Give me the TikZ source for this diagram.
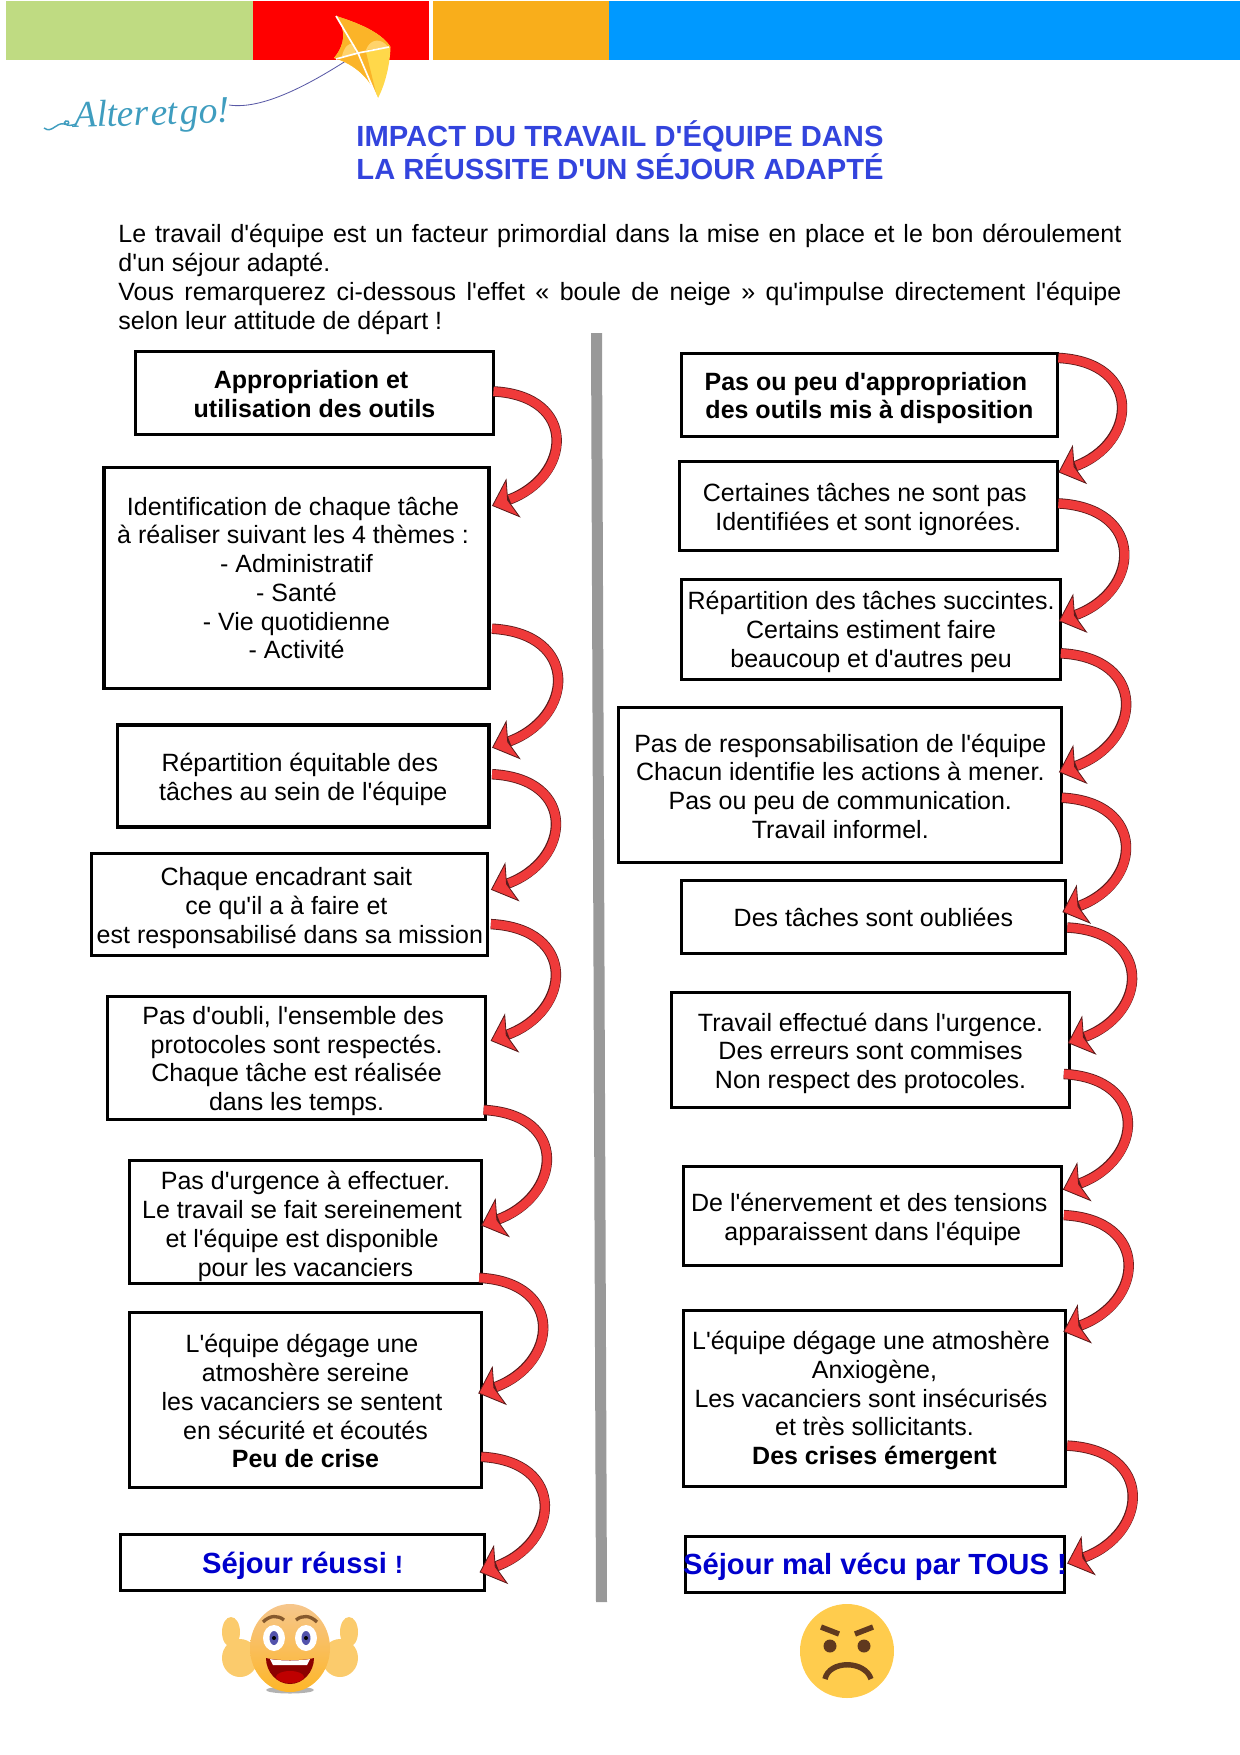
\documentclass[tikz,border=0pt]{standalone}
\usepackage{fontspec}
\setmainfont{Liberation Sans}[Ligatures=TeXOff]
\newfontfamily\mainlogo{Liberation Serif}
\usetikzlibrary{arrows.meta,calc}
\newcommand{\esp}{\kern3.34pt}
\definecolor{barvert}{HTML}{BFDB82}
\definecolor{barrouge}{HTML}{FF0000}
\definecolor{barorange}{HTML}{F9AE1B}
\definecolor{barbleu}{HTML}{0099FF}
\definecolor{titrebleu}{HTML}{3344DD}
\definecolor{finbleu}{HTML}{0000CC}
\definecolor{flecherouge}{HTML}{EF3A3A}
\definecolor{flechebord}{HTML}{5A1A1A}
\definecolor{logobleu}{HTML}{3F9DBF}
\definecolor{facejaune}{HTML}{FFCC4D}
\definecolor{facebrun}{HTML}{60391E}
\definecolor{volantjaune}{HTML}{FFD84A}
\definecolor{volantorange}{HTML}{FBB428}
\definecolor{volantclair}{HTML}{FFD36B}
\definecolor{peauhaut}{HTML}{F6C68C}
\definecolor{peaubas}{HTML}{FDB628}
\definecolor{mainpeau}{HTML}{FBCB6C}
\begin{document}
\begin{tikzpicture}[x=0.48pt,y=0.48pt,
	bx/.style 2 args={draw,line width=1.5pt,outer sep=0pt,inner sep=0pt,align=center,
		font=\fontsize{12}{13.8}\selectfont,minimum width=#1*0.48pt,minimum height=#2*0.48pt},
	fleche/.style={draw=flechebord,line width=5pt,out=-3,in=20,looseness=1.9,
		-{Stealth[length=11pt,width=20pt,inset=2.8pt,line width=0.4pt,fill=flecherouge]},
		postaction={draw=flecherouge,line width=4.2pt,-,shorten >=9pt}}]
	\useasboundingbox (0,0) rectangle (1240,-1755);

	% bandeau du haut
	\fill[barvert] (6,-1) rectangle (253,-60);
	\fill[barrouge] (253,-1) rectangle (429,-60);
	\fill[barorange] (433,-1) rectangle (609,-60);
	\fill[barbleu] (609,-1) rectangle (1240,-60);

	% cerf-volant
	\draw[gray!70!blue,line width=0.4pt] (229,-105) .. controls (262,-110) and (310,-85) .. (358,-53);
	\fill[volantjaune] (336,-16) .. controls (365,-25) and (383,-35) .. (390.5,-47)
		.. controls (390,-65) and (385,-85) .. (377.5,-99)
		.. controls (372,-80) and (355,-64) .. (334,-58)
		.. controls (345,-45) and (347,-30) .. (336,-16) -- cycle;
	\fill[volantorange] (336,-16) .. controls (365,-25) and (383,-35) .. (390.5,-47)
		-- (366,-52) -- (377.5,-99) .. controls (372,-80) and (355,-64) .. (334,-58)
		.. controls (345,-45) and (347,-30) .. (336,-16) -- cycle;
	\fill[volantclair] (366,-50) .. controls (370,-38) and (382,-38) .. (388,-47) -- cycle
		(342,-56) .. controls (344,-48) and (348,-42) .. (354,-44) -- (356,-55) -- cycle;
	\draw[white,line width=0.8pt] (336,-16) -- (358,-53) -- (377.5,-99)
		(336,-59) -- (358,-53) -- (389,-47);

	% logo
	\path (152,-116) node[text=logobleu,rotate=2] (logo) {\mainlogo\itshape\fontsize{18}{18}\selectfont\spaceskip=1pt Alter et go!};
	\draw[logobleu,line width=0.7pt] (44,-128) .. controls (52,-134) and (56,-122) .. (64,-124)
		.. controls (70,-126) and (70,-120) .. (66,-121) .. controls (62,-122) and (66,-128) .. (76,-124);

	% titre et texte
	\path (620,-150) node[text=titrebleu,align=center,font=\bfseries\fontsize{14}{16.1}\selectfont] (titre)
		{IMPACT DU TRAVAIL D'ÉQUIPE DANS\\LA RÉUSSITE D'UN SÉJOUR ADAPTÉ};
	\path (118,-223.5) node[anchor=north west,inner sep=0pt,text width=1003*0.48pt,align=justify,
		font=\fontsize{12}{14}\selectfont] (intro)
		{Le travail d'équipe est un facteur primordial dans la mise en place et le bon déroulement\linebreak
		d'un séjour adapté.\\
		Vous remarquerez ci-dessous l'effet « boule de neige » qu'impulse directement l'équipe\linebreak
		selon leur attitude de départ !};

	% separation
	\fill[black!40] (591,-333) -- (602,-333) -- (607,-1602) -- (596,-1602) -- cycle;

	% colonne de gauche
	\path (314.5,-392.8) node[bx={358}{83},font=\bfseries\fontsize{12}{13.8}\selectfont,text height=23.7pt] (l1) {Appropriation et\esp\\utilisation des outils}
		(296.5,-578) node[bx={385}{220.5}] (l2) {Identification de chaque tâche\esp\\à réaliser suivant les 4 thèmes :\esp\\- Administratif\\- Santé\\- Vie quotidienne\\- Activité}
		(303.3,-776) node[bx={371.5}{102},text height=25.8pt] (l3) {Répartition équitable des\esp\\tâches au sein de l'équipe}
		(289.9,-904.8) node[bx={396}{101.8},text height=39.6pt] (l4) {Chaque encadrant sait\esp\\ce qu'il a à faire et\esp\\est responsabilisé dans sa mission}
		(296.6,-1057.6) node[bx={378}{123},text height=53.4pt] (l5) {Pas d'oubli, l'ensemble des\esp\\protocoles sont respectés.\\Chaque tâche est réalisée\\dans les temps.}
		(305.5,-1222) node[bx={351.4}{123},text height=54.4pt] (l6) {Pas d'urgence à effectuer.\\Le travail se fait sereinement\esp\\et l'équipe est disponible\esp\\pour les vacanciers}
		(305.5,-1400) node[bx={351.4}{174.6},text height=65.2pt] (l7) {L'équipe dégage une\esp\\atmoshère sereine\\les vacanciers se sentent\esp\\en sécurité et écoutés\\\textbf{Peu de crise}}
		(302.7,-1562.3) node[bx={363.7}{56},text height=14pt] (l8) {\textcolor{finbleu}{\bfseries\fontsize{14}{16}\selectfont Séjour réussi \fontsize{12}{14}\selectfont !}};

	% colonne de droite
	\path (869.4,-395) node[bx={376}{83},font=\bfseries\fontsize{12}{13.8}\selectfont,text height=25.3pt] (r1) {Pas ou peu d'appropriation\esp\\des outils mis à disposition}
		(868.3,-505.8) node[bx={378.2}{89.5},text height=25.8pt] (r2) {Certaines tâches ne sont pas\esp\\Identifiées et sont ignorées.}
		(871.1,-629.5) node[bx={379.4}{99.6},text height=38.8pt] (r3) {Répartition des tâches succintes.\\Certains estiment faire\\beaucoup et d'autres peu}
		(840.3,-785) node[bx={443.2}{155.5},text height=51.4pt] (r4) {Pas de responsabilisation de l'équipe\\Chacun identifie les actions à mener.\\Pas ou peu de communication.\\Travail informel.}
		(873.4,-917) node[bx={383.9}{72.8}] (r5) {Des tâches sont oubliées}
		(870.6,-1050) node[bx={398.4}{115.3},text height=39.6pt] (r6) {Travail effectué dans l'urgence.\\Des erreurs sont commises\\Non respect des protocoles.}
		(872.8,-1215.9) node[bx={378.2}{99.6},text height=25.8pt] (r7) {De l'énervement et des tensions\esp\\apparaissent dans l'équipe}
		(874.5,-1398.4) node[bx={381.6}{175.7},text height=66.2pt] (r8) {L'équipe dégage une atmoshère\esp\\Anxiogène,\\Les vacanciers sont insécurisés\esp\\et très sollicitants.\\\textbf{Des crises émergent}}
		(875,-1564.5) node[bx={378.2}{56},text height=12.5pt] (r9) {\makebox[0pt][c]{\textcolor{finbleu}{\bfseries\fontsize{14}{16}\selectfont Séjour mal vécu par TOUS !}}};

	% fleches
	\draw[fleche] ($(l1.east)+(0,1.4)$) to ($(l2.east)+(3,72.2)$);
	\draw[fleche] ($(l2.east)+(3,-50.7)$) to ($(l3.east)+(3,28.4)$);
	\draw[fleche] ($(l3.east)+(3,1.8)$) to ($(l4.east)+(3,15.1)$);
	\draw[fleche] ($(l4.east)+(3,-19.3)$) to ($(l5.east)+(5,16.8)$);
	\draw[fleche] ($(l5.east)+(-2,-52.3)$) to ($(l6.east)+(0,-3.5)$);
	\draw[fleche] ($(l6.east)+(-2,-55.8)$) to ($(l7.east)+(-3,6.7)$);
	\draw[fleche] ($(l7.east)+(0,-56.8)$) to ($(l8.east)+(-5,-10)$);
	\draw[fleche] ($(r1.east)+(1,37.1)$) to ($(r2.east)+(1,33.5)$);
	\draw[fleche] ($(r2.east)+(1,2.4)$) to ($(r3.east)+(-2,8.4)$);
	\draw[fleche] ($(r3.east)+(0,-23.8)$) to ($(r4.east)+(-3,12.8)$);
	\draw[fleche] ($(r4.east)+(0,-12.7)$) to ($(r5.east)+(-3,4.9)$);
	\draw[fleche] ($(r5.east)+(2,-10.5)$) to ($(r6.east)+(-2,7)$);
	\draw[fleche] ($(r6.east)+(-6,-24)$) to ($(r7.east)+(1,26.3)$);
	\draw[fleche] ($(r7.east)+(2,0.8)$) to ($(r8.east)+(-2,66.7)$);
	\draw[fleche] ($(r8.east)+(2,-47.2)$) to ($(r9.east)+(3,1)$);

	% visage content
	\fill[black!30] (290,-1690) ellipse (24 and 3.5);
	\foreach \s in {-1,1}{
		\fill[mainpeau] (290+\s*59,-1632) ellipse (9 and 15);
		\fill[mainpeau] (290+\s*50,-1658) ellipse (18 and 19);
	}
	\shade[top color=peauhaut,bottom color=peaubas] (290,-1648) ellipse (40 and 44);
	\foreach \s in {-1,1}{
		\fill[white] (290+\s*16,-1638) ellipse (11 and 13);
		\fill[blue!35!gray] (290+\s*16,-1638) ellipse (4.5 and 7);
		\fill[black] (290+\s*16,-1638) circle (2);
		\draw[brown!70!black,line width=1.6pt] (290+\s*27,-1622) .. controls (290+\s*20,-1615) and (290+\s*12,-1615) .. (290+\s*6,-1620);
	}
	\fill[red!55!black] (266,-1658) .. controls (278,-1661) and (302,-1661) .. (314,-1658)
		.. controls (314,-1672) and (303,-1684) .. (290,-1684)
		.. controls (277,-1684) and (266,-1672) .. (266,-1658) -- cycle;
	\fill[white] (270,-1659) .. controls (280,-1661) and (300,-1661) .. (310,-1659) -- (307,-1665) -- (273,-1665) -- cycle;
	\fill[red!75!black] (290,-1677) ellipse (14 and 6);

	% visage fache
	\fill[facejaune] (847,-1651) ellipse (47 and 47);
	\fill[facebrun] (830,-1646) ellipse (6.5 and 6.5) (864,-1646) ellipse (6.5 and 6.5);
	\draw[facebrun,line width=2.6pt] (821,-1627) -- (839,-1634) (873,-1627) -- (855,-1634);
	\draw[facebrun,line width=2.6pt] (825,-1679) .. controls (829,-1660) and (865,-1660) .. (871,-1679);
\end{tikzpicture}
\end{document}
